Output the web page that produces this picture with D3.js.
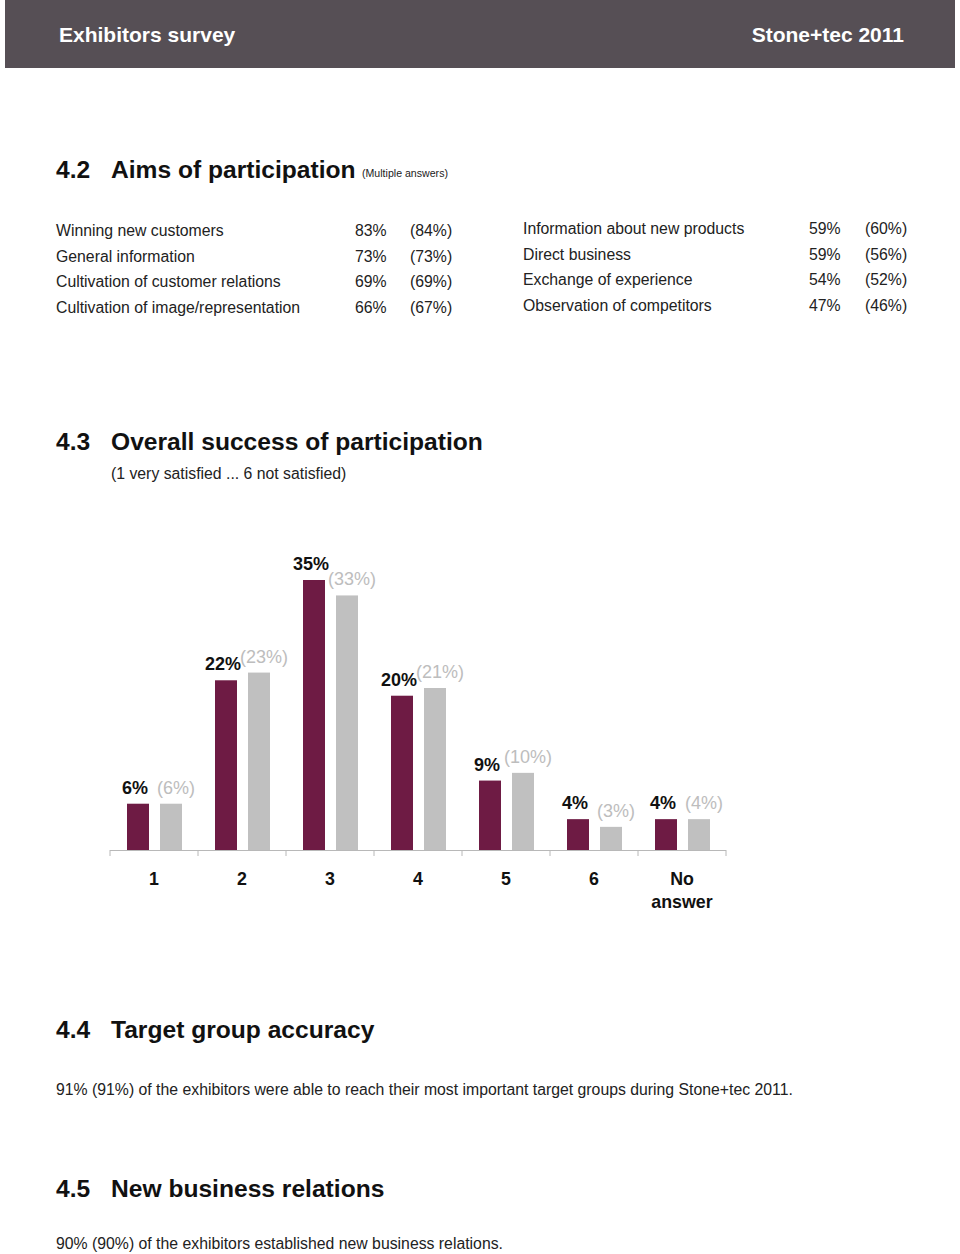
<!DOCTYPE html>
<html><head><meta charset="utf-8">
<script src="https://cdn.jsdelivr.net/npm/d3@7/dist/d3.min.js"></script>
<style>body{margin:0;background:#fff;} svg{display:block;font-family:"Liberation Sans",Arial,Helvetica,sans-serif;}</style>
</head><body>
<script>
const aimsLeft = ["Winning new customers","General information","Cultivation of customer relations","Cultivation of image/representation"];
const aimsLeft2011 = [83,73,69,66];
const aimsLeftPrev = [84,73,69,67];
const aimsRight = ["Information about new products","Direct business","Exchange of experience","Observation of competitors"];
const aimsRight2011 = [59,59,54,47];
const aimsRightPrev = [60,56,52,46];

const categories = ["1","2","3","4","5","6","No answer"];
const success2011 = [6,22,35,20,9,4,4];
const successPrev = [6,23,33,21,10,3,4];

const W = 960, H = 1254;
const svg = d3.select("body").append("svg").attr("width", W).attr("height", H);

// header
svg.append("rect").attr("x",5).attr("y",0).attr("width",950).attr("height",68).attr("fill","#564f55");
svg.append("text").attr("x",59).attr("y",42).attr("fill","#fff").attr("font-weight","bold").attr("font-size",21).text("Exhibitors survey");
svg.append("text").attr("x",904).attr("y",42).attr("fill","#fff").attr("font-weight","bold").attr("font-size",21).attr("text-anchor","end").text("Stone+tec 2011");

function title(num, txt, y){
  svg.append("text").attr("x",56).attr("y",y).attr("font-weight","bold").attr("font-size",24.6).attr("fill","#111").text(num);
  return svg.append("text").attr("x",111).attr("y",y).attr("font-weight","bold").attr("font-size",24.6).attr("fill","#111").text(txt);
}
title("4.2","Aims of participation",178);
svg.append("text").attr("x",362).attr("y",177).attr("font-size",10.6).attr("fill","#222").text("(Multiple answers)");

const rowY = d3.scaleLinear().domain([0,1]).range([236,261.5]);
const f = 15.8;
aimsLeft.forEach((d,i)=>{
  const y = rowY(i);
  svg.append("text").attr("x",56).attr("y",y).attr("font-size",f).attr("fill","#222").text(d);
  svg.append("text").attr("x",355).attr("y",y).attr("font-size",f).attr("fill","#222").text(aimsLeft2011[i]+"%");
  svg.append("text").attr("x",410).attr("y",y).attr("font-size",f).attr("fill","#222").text("("+aimsLeftPrev[i]+"%)");
});
aimsRight.forEach((d,i)=>{
  const y = rowY(i)-2;
  svg.append("text").attr("x",523).attr("y",y).attr("font-size",f).attr("fill","#222").text(d);
  svg.append("text").attr("x",809).attr("y",y).attr("font-size",f).attr("fill","#222").text(aimsRight2011[i]+"%");
  svg.append("text").attr("x",865).attr("y",y).attr("font-size",f).attr("fill","#222").text("("+aimsRightPrev[i]+"%)");
});

title("4.3","Overall success of participation",450);
svg.append("text").attr("x",111).attr("y",479).attr("font-size",f).attr("fill","#222").text("(1 very satisfied ... 6 not satisfied)");

// chart
const x = d3.scaleBand().domain(categories).range([110,726]).padding(0);
const y = d3.scaleLinear().domain([0,35]).range([850,580]);
const maroon = "#6e1b44", grey = "#c0c0c0";
const bw = 22;
const g = svg.append("g");
categories.forEach((c,i)=>{
  const x0 = x(c);
  const mx = x0+17, gx = x0+50;
  g.append("rect").attr("x",mx).attr("y",y(success2011[i])).attr("width",bw).attr("height",y(0)-y(success2011[i])).attr("fill",maroon);
  g.append("rect").attr("x",gx).attr("y",y(successPrev[i])).attr("width",bw).attr("height",y(0)-y(successPrev[i])).attr("fill",grey);
  g.append("text").attr("x",mx+bw/2-3).attr("y",y(success2011[i])-10).attr("text-anchor","middle").attr("font-weight","bold").attr("font-size",18).attr("fill","#111").text(success2011[i]+"%");
  g.append("text").attr("x",gx+bw/2+5).attr("y",y(successPrev[i])-10).attr("text-anchor","middle").attr("font-size",18).attr("fill","#bdbdbd").text("("+successPrev[i]+"%)");
});
// axis
const ax = svg.append("g");
ax.append("line").attr("x1",110).attr("x2",726).attr("y1",850.5).attr("y2",850.5).attr("stroke","#b8b8b8").attr("stroke-width",1.2);
const bounds = categories.map(c=>x(c)).concat([x.range()[1]]);
bounds.forEach(b=>ax.append("line").attr("x1",b).attr("x2",b).attr("y1",850).attr("y2",856).attr("stroke","#b8b8b8"));
categories.forEach(c=>{
  const cx = x(c)+x.bandwidth()/2;
  const parts = c.split(" ");
  parts.forEach((p,j)=>{
    ax.append("text").attr("x",cx).attr("y",885+j*23).attr("text-anchor","middle").attr("font-weight","bold").attr("font-size",17.8).attr("fill","#111").text(p);
  });
});

title("4.4","Target group accuracy",1038);
svg.append("text").attr("x",56).attr("y",1095).attr("font-size",f).attr("fill","#222").text("91% (91%) of the exhibitors were able to reach their most important target groups during Stone+tec 2011.");
title("4.5","New business relations",1197);
svg.append("text").attr("x",56).attr("y",1249).attr("font-size",f).attr("fill","#222").text("90% (90%) of the exhibitors established new business relations.");
</script>
</body></html>
